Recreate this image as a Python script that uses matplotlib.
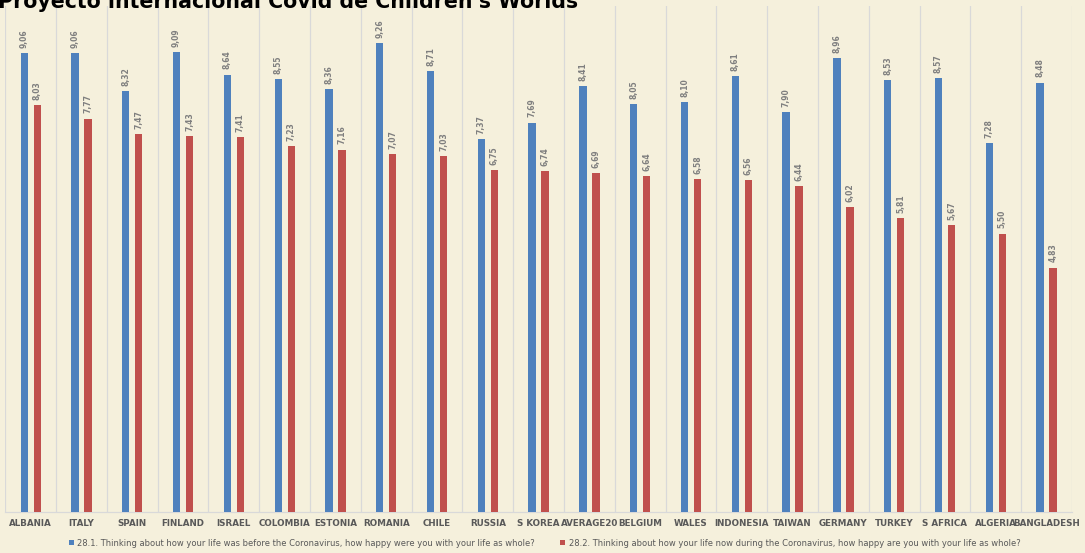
import numpy as np
import matplotlib
matplotlib.use("Agg")
import matplotlib.pyplot as plt

# datos
countries = ["ALBANIA", "ITALY", "SPAIN", "FINLAND", "ISRAEL", "COLOMBIA", "ESTONIA",
             "ROMANIA", "CHILE", "RUSSIA", "S KOREA", "AVERAGE20", "BELGIUM", "WALES",
             "INDONESIA", "TAIWAN", "GERMANY", "TURKEY", "S AFRICA", "ALGERIA", "BANGLADESH"]
before = [9.06, 9.06, 8.32, 9.09, 8.64, 8.55, 8.36, 9.26, 8.71, 7.37, 7.69, 8.41,
          8.05, 8.10, 8.61, 7.90, 8.96, 8.53, 8.57, 7.28, 8.48]
during = [8.03, 7.77, 7.47, 7.43, 7.41, 7.23, 7.16, 7.07, 7.03, 6.75, 6.74, 6.69,
          6.64, 6.58, 6.56, 6.44, 6.02, 5.81, 5.67, 5.50, 4.83]
label_before = "28.1. Thinking about how your life was before the Coronavirus, how happy were you with your life as whole?"
label_during = "28.2. Thinking about how your life now during the Coronavirus, how happy are you with your life as whole?"
title = "Proyecto internacional Covid de Children's Worlds"

bg = "#F5F0DC"
blue = "#4F81BD"
red = "#C0504D"
grey_txt = "#595959"

fig = plt.figure(figsize=(10.85, 5.53), dpi=100, facecolor=bg)
ax = fig.add_axes([0.0049, 0.0736, 0.9831, 0.9161], facecolor=bg)

x = np.arange(len(countries))
w = 0.144
b1 = ax.bar(x - 0.128, before, w, color=blue, label=label_before, zorder=3)
b2 = ax.bar(x + 0.128, during, w, color=red, label=label_during, zorder=3)

def fmt(v):
    return ("%.2f" % v).replace(".", ",")

for bars, vals in ((b1, before), (b2, during)):
    for r, v in zip(bars, vals):
        ax.annotate(fmt(v), (r.get_x() + r.get_width() / 2, v), xytext=(0, 3.8),
                    textcoords="offset points", rotation=90, ha="center", va="bottom",
                    fontsize=5.5, fontweight="bold", color="#7F7F7F")

ax.set_xlim(-0.5, len(countries) - 0.5)
ax.set_ylim(0, 10)

# lineas verticales entre paises
for b in np.arange(-0.5, len(countries) + 0.5, 1):
    ax.axvline(b, color="#D9D9D9", lw=0.9, zorder=1)

for s in ["top", "right", "left"]:
    ax.spines[s].set_visible(False)
ax.spines["bottom"].set_color("#D9D9D9")
ax.spines["bottom"].set_linewidth(0.9)
ax.set_yticks([])
ax.set_xticks(x)
ax.set_xticklabels(countries, fontsize=6.3, fontweight="bold", color=grey_txt)
ax.tick_params(axis="x", length=0, pad=5)

leg = fig.legend(handles=[b1, b2], loc="center", bbox_to_anchor=(0.502, 0.018), ncol=2,
                 frameon=False, fontsize=6.0, handlelength=0.6, handleheight=0.6,
                 handletextpad=0.4, columnspacing=3.0)
for t in leg.get_texts():
    t.set_color(grey_txt)

fig.text(-0.002, 1 - 8 / 553, title, fontsize=14.8, fontweight="bold", va="baseline",
         ha="left", color="black")

fig.savefig("out.png", dpi=100, facecolor=bg)
